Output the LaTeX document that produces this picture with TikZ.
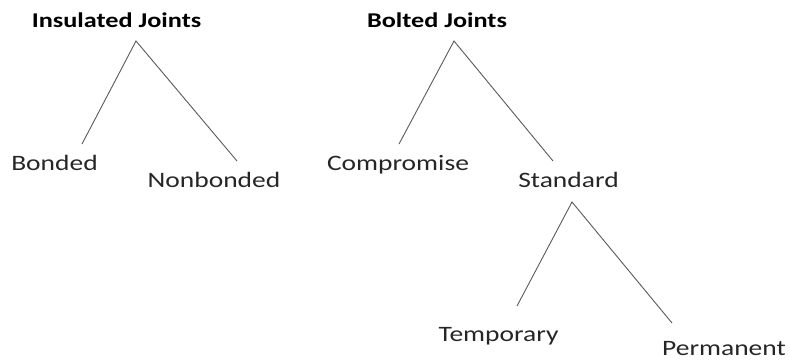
\documentclass[tikz,border=0pt]{standalone}
\usepackage{fontspec}
\setmainfont{Carlito}[FakeStretch=1.25]
\begin{document}
\begin{tikzpicture}[x=1pt,y=-1pt,
  lbl/.style={anchor=base, inner sep=0pt, font=\fontsize{22}{24}\selectfont, text=black!85},
  ttl/.style={anchor=base, inner sep=0pt, font=\fontsize{21}{24}\selectfont\bfseries, text=black},
  branch/.style={draw=black!65, line width=0.9pt}]
\useasboundingbox (0,0) rectangle (790,360);
% titles and labels
\node[ttl] (ins) at (116.5,27) {Insulated Joints};
\node[lbl] (bon) at (54.5,170.5) {Bonded};
\node[lbl] (nonb) at (214,187.5) {Nonbonded};
\node[ttl] (bol) at (437,27) {Bolted Joints};
\node[lbl] (com) at (398,170.5) {Compromise};
\node[lbl] (sta) at (568.5,187.5) {Standard};
\node[lbl] (tem) at (498.5,341) {Temporary};
\node[lbl] (per) at (724,355) {Permanent};
% branch points
\coordinate (a1) at (136,41);
\coordinate (l1) at (82,144);
\coordinate (r1) at (237,161);
\coordinate (a2) at (454,41);
\coordinate (l2) at (399,144);
\coordinate (r2) at (553,161);
\coordinate (a3) at (572,202);
\coordinate (l3) at (517,306);
\coordinate (r3) at (672,323);
\draw[branch] (l1) -- (a1) -- (r1);
\draw[branch] (l2) -- (a2) -- (r2);
\draw[branch] (l3) -- (a3) -- (r3);
\end{tikzpicture}
\end{document}
